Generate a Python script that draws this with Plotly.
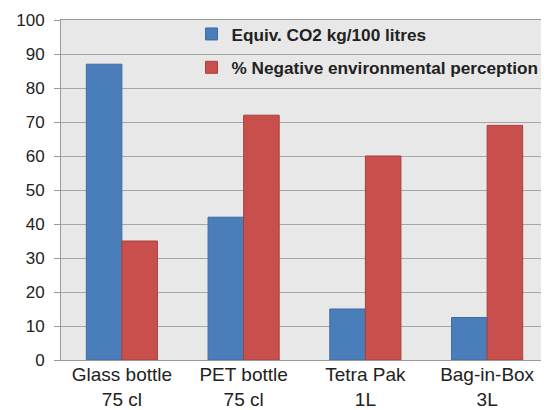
import plotly.graph_objects as go

categories = ["Glass bottle<br>75 cl", "PET bottle<br>75 cl", "Tetra Pak<br>1L", "Bag-in-Box<br>3L"]
co2_values = [87, 42, 15, 12.5]
negative_perception = [35, 72, 60, 69]

fig = go.Figure()

fig.add_trace(
    go.Bar(
        x=categories,
        y=co2_values,
        name="Equiv. CO2 kg/100 litres",
        legendgroup="a",
        marker=dict(color="#4a7ebb", line=dict(color="#3d6aa3", width=1)),
    )
)
fig.add_trace(
    go.Bar(
        x=categories,
        y=negative_perception,
        name="% Negative environmental perception",
        legendgroup="b",
        marker=dict(color="#c84f4c", line=dict(color="#a8403d", width=1)),
    )
)

# the page body has an 8px margin, so the figure is sized to fit inside it
fig.update_layout(
    width=541,
    height=402,
    margin=dict(l=53, r=1, t=12, b=50, autoexpand=False),
    barmode="group",
    bargap=0.416,
    bargroupgap=0,
    paper_bgcolor="white",
    plot_bgcolor="#e8e8e8",
    font=dict(family="Liberation Sans, Arial, sans-serif", color="#222222"),
    showlegend=True,
    legend=dict(
        x=0.268,
        y=1.011,
        xanchor="left",
        yanchor="top",
        bgcolor="rgba(0,0,0,0)",
        font=dict(size=17.2, color="#222222", weight="bold"),
        traceorder="grouped",
        tracegroupgap=8,
        itemwidth=30,
    ),
    xaxis=dict(
        automargin=False,
        tickfont=dict(size=19, color="#222222"),
        ticklabelstandoff=-3,
        showline=True,
        linecolor="#9a9a9a",
        linewidth=1,
        mirror=True,
        ticks="",
    ),
    yaxis=dict(
        automargin=False,
        range=[0, 100],
        dtick=10,
        tickfont=dict(size=17, color="#222222"),
        ticklabelstandoff=6,
        showgrid=True,
        gridcolor="#a6a6a6",
        gridwidth=1,
        showline=True,
        linecolor="#9a9a9a",
        linewidth=1,
        mirror=True,
        ticks="outside",
        ticklen=6,
        tickcolor="#9a9a9a",
        zeroline=False,
    ),
)

fig.write_html("out.html")
